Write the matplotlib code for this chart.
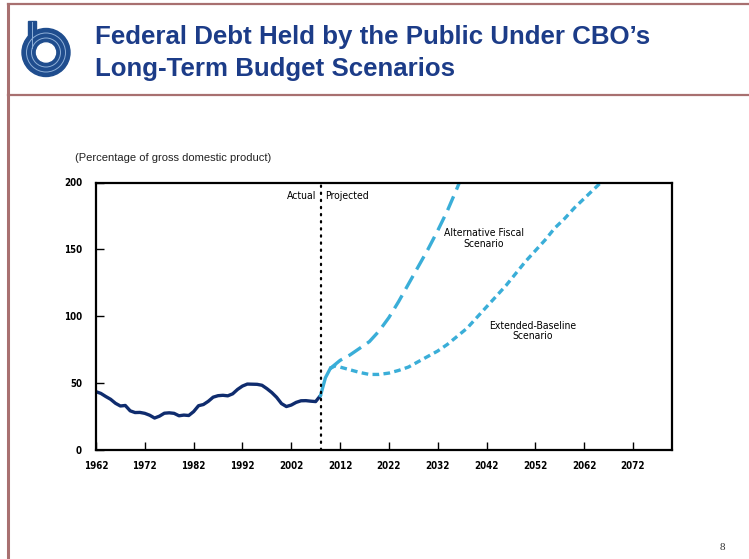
import numpy as np
import matplotlib.pyplot as plt
from matplotlib.patches import Circle, Rectangle

# --- data (percent of GDP) ---
actual_years = list(range(1962, 2009))
actual_debt = [43.6, 42.3, 40.0, 37.9, 34.9, 32.9, 33.3, 29.3, 28.0, 28.1,
               27.4, 26.0, 23.9, 25.3, 27.5, 27.8, 27.4, 25.6, 26.1, 25.8,
               28.7, 33.1, 34.0, 36.4, 39.5, 40.6, 40.9, 40.5, 42.0, 45.3,
               47.8, 49.3, 49.2, 49.1, 48.4, 45.9, 43.0, 39.4, 34.7, 32.5,
               33.6, 35.6, 36.8, 36.9, 36.5, 36.2, 40.8]

bridge_years = [2008, 2009, 2010]
bridge_debt = [40.8, 54, 61]

alt_years = [2010, 2011, 2012, 2014, 2016, 2018, 2020, 2022, 2024, 2026,
             2028, 2030, 2032, 2034, 2036, 2038]
alt_debt = [61, 64, 67, 71, 76, 81, 89, 99, 111, 124, 137, 150, 164, 179, 196, 214]

ext_years = [2010, 2011, 2012, 2014, 2016, 2018, 2020, 2022, 2024, 2026, 2028,
             2030, 2032, 2034, 2036, 2038, 2040, 2042, 2044, 2046, 2048, 2050,
             2052, 2054, 2056, 2058, 2060, 2062, 2064, 2066, 2068]
ext_debt = [61, 63, 62, 60, 58, 56.5, 56.5, 57.5, 59.5, 62, 66, 70, 74, 79, 85,
            91, 99, 107, 115, 123, 132, 141, 149, 157, 166, 173, 181, 188, 195, 202, 210]

xticks = list(range(1962, 2073, 10))
yticks = [0, 50, 100, 150, 200]

navy = "#0f2c6e"
light = "#3aaed8"
border = "#a87070"
title_col = "#1c3c88"
logo_col = "#1f4d8e"
small = dict(family="DejaVu Sans", fontstretch="condensed")

W, H = 749, 559
fig = plt.figure(figsize=(W / 100, H / 100), dpi=100)

# --- slide frame, drawn in pixel coordinates ---
bg = fig.add_axes([0, 0, 1, 1])
bg.set_xlim(0, W)
bg.set_ylim(H, 0)
bg.axis("off")
bg.plot([8, W], [3.5, 3.5], color=border, lw=1.6)
bg.plot([8, W], [95, 95], color=border, lw=1.6)
bg.plot([8, 8], [3.5, H], color=border, lw=2.2)

# CBO logo
cx, cy = 46, 52.5
bg.add_patch(Circle((cx, cy), 24, color=logo_col, zorder=2))
bg.add_patch(Rectangle((28, 21), 7.5, 31, color=logo_col, zorder=2))
for r in (19.5, 14.5):
    bg.add_patch(Circle((cx, cy), r, fill=False, ec="#8fb0d8", lw=0.7, zorder=3))
bg.plot([31.5, 31.5], [22, 48], color="#8fb0d8", lw=0.7, zorder=3)
bg.add_patch(Circle((cx, cy), 9.5, color="white", zorder=4))

bg.text(95, 37, "Federal Debt Held by the Public Under CBO\u2019s",
        fontsize=18.6, fontweight="bold", color=title_col,
        family="Liberation Sans", va="center", ha="left")
bg.text(95, 69, "Long-Term Budget Scenarios",
        fontsize=18.6, fontweight="bold", color=title_col,
        family="Liberation Sans", va="center", ha="left")
bg.text(75, 158, "(Percentage of gross domestic product)", fontsize=8,
        family="Liberation Sans", va="center", ha="left", color="#222222")
bg.text(722, 547, "8", fontsize=8, family="Liberation Serif",
        va="center", ha="center", color="#333333")

# --- chart ---
ax = fig.add_axes([96 / W, 1 - 450 / H, 576 / W, 267.5 / H])
ax.plot(actual_years, actual_debt, color=navy, lw=2.4, solid_capstyle="round")
ax.plot(bridge_years, bridge_debt, color=light, lw=2.4)
ax.plot(alt_years, alt_debt, color=light, lw=2.4, dashes=(4.5, 2.2))
ax.plot(ext_years, ext_debt, color=light, lw=2.4, dashes=(2.0, 1.3))
ax.axvline(2008, color="black", lw=1.6, ls=(0, (0.6, 2.6)), dash_capstyle="round")

ax.set_xlim(1962, 2080)
ax.set_ylim(0, 200)
ax.set_xticks(xticks)
ax.set_yticks(yticks)
ax.set_xticklabels([str(t) for t in xticks], fontweight="bold", fontsize=7, **small)
ax.set_yticklabels([str(t) for t in yticks], fontweight="bold", fontsize=7, **small)
ax.tick_params(axis="both", direction="in", length=6, width=1, pad=8)
ax.tick_params(axis="y", pad=10)
for s in ax.spines.values():
    s.set_linewidth(1.6)

ax.text(2007.2, 190, "Actual", ha="right", va="center", fontsize=7.5, **small)
ax.text(2009, 190, "Projected", ha="left", va="center", fontsize=7.5, **small)
ax.text(2041.5, 158, "Alternative Fiscal\nScenario", ha="center", va="center",
        fontsize=7.5, linespacing=1.1, **small)
ax.text(2051.5, 89, "Extended-Baseline\nScenario", ha="center", va="center",
        fontsize=7.5, linespacing=1.1, **small)

fig.savefig("out.png", dpi=100)
